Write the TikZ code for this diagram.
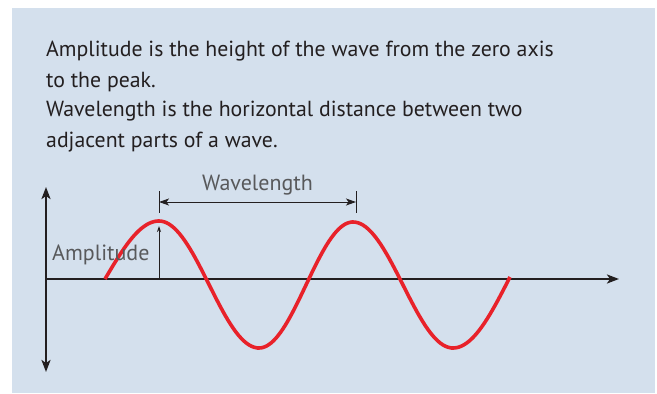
\documentclass[tikz,border=0pt]{standalone}
\usepackage{fontspec}
\setmainfont{PT Sans}
\usetikzlibrary{arrows.meta}
\definecolor{bg}{HTML}{D4E0ED}
\definecolor{txt}{HTML}{231F20}
\definecolor{lbl}{HTML}{58595B}
\definecolor{wavered}{HTML}{E8222A}
\tikzset{
  body/.style={anchor=base west, inner sep=0pt, text=txt, font=\fontsize{21.8}{26}\selectfont},
  lab/.style={anchor=base west, inner sep=0pt, text=lbl, font=\fontsize{22}{26}\selectfont},
  axisline/.style={draw=txt, line width=2.2pt},
  thinline/.style={draw=txt, line width=1pt},
  wavestyle/.style={draw=wavered, line width=3.6pt},
}
\begin{document}
\begin{tikzpicture}[x=1pt,y=-1pt]
\useasboundingbox (0,0) rectangle (657,394);
\fill[bg] (12,8) rectangle (655,393);
% text
\node[body] (t1) at (46,56) {Amplitude is the height of the wave from the zero axis};
\node[body] (t2) at (46,87) {to the peak.};
\node[body] (t3) at (46,116) {Wavelength is the horizontal distance between two};
\node[body] (t4) at (46,147) {adjacent parts of a wave.};
% axes
\coordinate (o) at (46,279);
\coordinate (ytop) at (46,187);
\coordinate (ybot) at (46,372);
\coordinate (xend) at (619,279);
\draw[axisline, {Stealth[length=12pt,width=9pt,inset=3pt]}-{Stealth[length=12pt,width=9pt,inset=3pt]}] (ytop) -- (ybot);
\draw[axisline, -{Stealth[length=12pt,width=9pt,inset=3pt]}] (o) -- (xend);
% wave
\draw[wavestyle]
  plot[domain=105:159, samples=30, variable=\x] (\x, {279 - 58*sin((\x-105)/54*90)})
  -- plot[domain=159:259, samples=40, variable=\x] (\x, {284.5 - 63.5*cos((\x-159)/100*180)})
  -- plot[domain=259:353, samples=40, variable=\x] (\x, {285 + 63*cos((\x-259)/94*180)})
  -- plot[domain=353:453, samples=40, variable=\x] (\x, {285 - 63*cos((\x-353)/100*180)})
  -- plot[domain=453:510, samples=30, variable=\x] (\x, {277 + 71*cos((\x-453)/57*90)});
% amplitude
\coordinate (abase) at (159,279);
\coordinate (atop) at (159,226);
\draw[thinline, -{Stealth[length=6pt,width=4pt]}] (abase) -- (atop);
\node[lab] (amp) at (52,260) {Amplitude};
% wavelength
\coordinate (w1t) at (159,191);
\coordinate (w1b) at (159,213);
\coordinate (w2t) at (356,191);
\coordinate (w2b) at (356,213);
\coordinate (w1) at (159,202);
\coordinate (w2) at (356,202);
\draw[thinline] (w1t) -- (w1b);
\draw[thinline] (w2t) -- (w2b);
\draw[thinline, {Stealth[length=10pt,width=7pt,inset=2.5pt]}-{Stealth[length=10pt,width=7pt,inset=2.5pt]}] (w1) -- (w2);
\node[lab] (wl) at (202,190) {Wavelength};
\end{tikzpicture}
\end{document}
